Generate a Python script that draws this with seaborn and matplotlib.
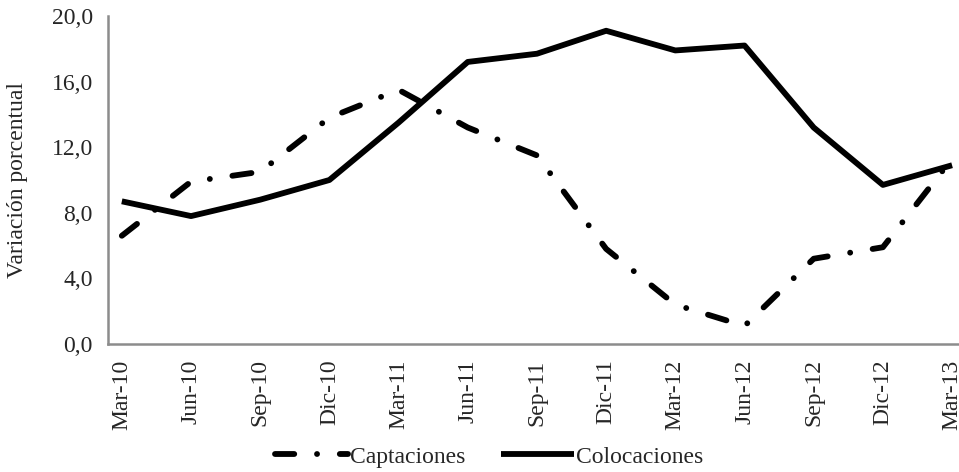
import numpy as np
import pandas as pd
import matplotlib
matplotlib.use("Agg")
import matplotlib.pyplot as plt
import seaborn as sns

periodos = ["Mar-10", "Jun-10", "Sep-10", "Dic-10", "Mar-11", "Jun-11", "Sep-11",
            "Dic-11", "Mar-12", "Jun-12", "Sep-12", "Dic-12", "Mar-13"]
captaciones = [6.6, 9.9, 10.5, 13.8, 15.5, 13.2, 11.5, 5.8, 2.4, 1.1, 5.2, 5.9, 11.3]
colocaciones = [8.7, 7.8, 8.8, 10.0, 13.5, 17.2, 17.7, 19.1, 17.9, 18.2, 13.2, 9.7, 10.9]
yticks = [0, 4, 8, 12, 16, 20]

df = pd.DataFrame({"pos": np.arange(len(periodos)),
                   "Captaciones": captaciones,
                   "Colocaciones": colocaciones})

sns.set_style("white")
plt.rcParams["font.family"] = ["Liberation Serif", "DejaVu Serif"]
fs = 17

fig = plt.figure(figsize=(9.59, 4.72), dpi=100)
ax = fig.add_axes([108 / 959, 128 / 472, 851 / 959, 328 / 472])

lw = 4.2
sns.lineplot(data=df, x="pos", y="Captaciones", ax=ax, color="black", lw=lw,
             linestyle=(0, (3.3, 3.9, 0.01, 3.9)), dash_capstyle="round",
             label="Captaciones")
sns.lineplot(data=df, x="pos", y="Colocaciones", ax=ax, color="black", lw=lw,
             solid_capstyle="butt", label="Colocaciones")

ax.set_xlim(-0.2, 12.1)
ax.set_ylim(0, 20)
ax.set_yticks(yticks)
ax.set_yticklabels([f"{v:.1f}".replace(".", ",") for v in yticks], fontsize=fs)

# tick marks sit between labels, labels sit on the points
ax.set_xticks(np.arange(len(periodos)) - 0.2)
ax.set_xticklabels([])
ax.set_xticks(np.arange(len(periodos)), minor=True)
ax.set_xticklabels(periodos, minor=True, rotation=90, fontsize=fs)
ax.tick_params(axis="x", which="minor", length=0, pad=11)
ax.tick_params(axis="x", which="major", length=6, width=1.8, color="#8c8c8c", direction="out")
ax.tick_params(axis="y", length=6, width=1.8, color="#8c8c8c", direction="out", pad=5)

ax.set_xlabel("")
ax.set_ylabel("Variación porcentual", fontsize=fs)
ax.yaxis.set_label_coords(-0.094, 0.5)

sns.despine(ax=ax)
for s in ["left", "bottom"]:
    ax.spines[s].set_color("#8c8c8c")
    ax.spines[s].set_linewidth(1.8)

ax.legend(loc="center", bbox_to_anchor=(0.51, 0.032), bbox_transform=fig.transFigure,
          ncol=2, frameon=False, fontsize=fs, handlelength=3.1, handletextpad=0.1,
          columnspacing=1.5, borderaxespad=0)

fig.savefig("out.png", dpi=100)
